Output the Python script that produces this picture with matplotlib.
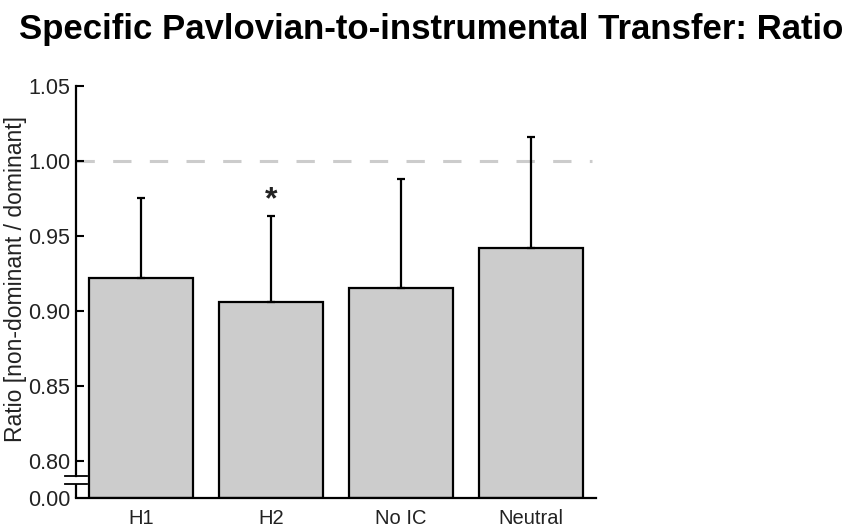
import matplotlib
matplotlib.use("Agg")
import matplotlib.pyplot as plt

plt.rcParams['font.family'] = ['Liberation Sans', 'DejaVu Sans']

# data
groups = ['H1', 'H2', 'No IC', 'Neutral']
ratio = [0.922, 0.906, 0.915, 0.942]
err_up = [0.053, 0.057, 0.073, 0.074]
signif = ['', '*', '', '']
y_ticks = [0.80, 0.85, 0.90, 0.95, 1.00, 1.05]

# fake bottom of the broken axis, labelled 0.00
base = 0.7753
brk_lo, brk_hi = 0.7845, 0.7898

fig = plt.figure(figsize=(8.5, 5.28), dpi=100)
ax = fig.add_axes([0.0894, 0.0574, 0.6118, 0.7803])

x = list(range(len(groups)))
heights = [v - base for v in ratio]
ax.bar(x, heights, bottom=base, width=0.8, color='#cccccc',
       edgecolor='black', linewidth=1.6, zorder=2)
ax.errorbar(x, ratio, yerr=[[0] * len(err_up), err_up], fmt='none',
            ecolor='black', elinewidth=1.6, capsize=3, capthick=1.6, zorder=3)

for i, s in enumerate(signif):
    if s:
        ax.text(x[i], ratio[i] + err_up[i] + 0.0005, s, ha='center', va='bottom',
                fontsize=23, fontweight='bold', color='#222222')

# reference line at 1
ax.plot([-0.5, 3.47], [1.0, 1.0], color='#cccccc', lw=2.2,
        dashes=(6, 6), zorder=1)

ax.set_xlim(-0.5, 3.5)
ax.set_ylim(base, 1.05)

ax.set_yticks([base] + y_ticks)
ax.set_yticklabels(['0.00'] + ['%.2f' % t for t in y_ticks])
ax.yaxis.get_major_ticks()[0].tick1line.set_visible(False)
ax.set_xticks(x)
ax.set_xticklabels(groups)
ax.tick_params(axis='y', direction='in', length=6, width=1.5,
               labelsize=15.5, labelcolor='#222222', pad=4)
ax.tick_params(axis='x', length=0, labelsize=14.5, labelcolor='#222222', pad=8)

for side in ['top', 'right']:
    ax.spines[side].set_visible(False)
ax.spines['bottom'].set_linewidth(1.6)
ax.spines['left'].set_linewidth(1.6)
ax.spines['left'].set_bounds(brk_hi, 1.05)
ax.plot([-0.5, -0.5], [base, brk_lo], color='black', lw=1.6,
        clip_on=False, solid_capstyle='butt')
# break marks
for yb in [brk_lo, brk_hi]:
    ax.plot([-0.585, -0.415], [yb, yb], color='black', lw=1.3, clip_on=False)

ax.set_ylabel('Ratio [non-dominant / dominant]', fontsize=16.5,
              color='#222222')
ax.yaxis.set_label_coords(-0.095, 0.53)

fig.text(0.507, 1 - 30 / 528, 'Specific Pavlovian-to-instrumental Transfer: Ratio',
         ha='center', va='center', fontsize=25, fontweight='bold')

fig.savefig('out.png', dpi=100)
